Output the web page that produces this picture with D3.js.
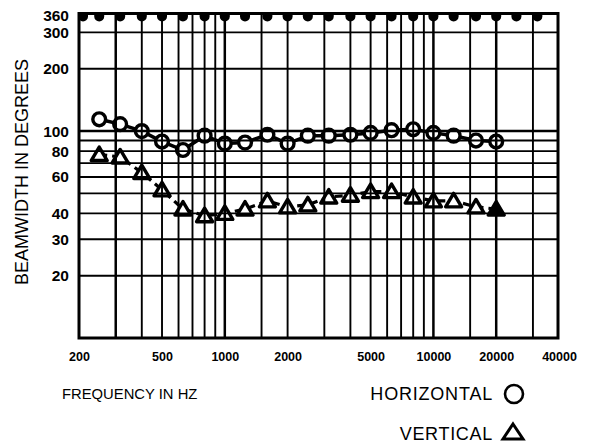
<!DOCTYPE html>
<html>
<head>
<meta charset="utf-8">
<script src="https://cdn.jsdelivr.net/npm/d3@7"></script>
<style>
  body { margin: 0; background: #fff; }
  text { font-family: "Liberation Sans", Arial, sans-serif; fill: #000; }
</style>
</head>
<body>
<div id="chart"></div>
<script>
// data (1/3 octave centres, Hz)
var freqs = [250, 315, 400, 500, 630, 800, 1000, 1250, 1600, 2000, 2500, 3150, 4000, 5000, 6300, 8000, 10000, 12500, 16000, 20000];
var horizontal = [114, 108, 100, 89, 81, 95, 87, 88, 96, 87, 95, 95, 96, 98, 101, 102, 98, 95, 90, 89];
var vertical = [77, 75, 63, 52, 42, 39, 40, 42, 46, 43, 44, 48, 49, 51, 51, 48, 46, 46, 43, 42];

var xLabels = [200, 500, 1000, 2000, 5000, 10000, 20000, 40000];
var xGrid = [300, 400, 500, 600, 700, 800, 900, 1000, 1500, 2000, 3000, 4000, 5000, 6000, 7000, 8000, 9000, 10000, 15000, 20000, 30000];
var topMarks = [200, 250, 315, 400, 500, 630, 800, 1000, 1250, 1600, 2000, 2500, 3150, 4000, 5000, 6300, 8000, 10000, 12500, 16000, 20000, 25000, 31500];
var yLabels = [360, 300, 200, 100, 80, 60, 40, 30, 20];
var yGrid = [300, 200, 100, 90, 80, 70, 60, 50, 40, 30, 20];

var svgWidth = 594;
var svgHeight = 448;

var plot = { left: 79, right: 558, top: 13.5, bottom: 338 };

var svg = d3.select("#chart")
  .append("svg")
  .attr("width", svgWidth)
  .attr("height", svgHeight);

svg.append("rect")
  .attr("width", svgWidth)
  .attr("height", svgHeight)
  .attr("fill", "#fff");

var xScale = d3.scaleLog()
  .domain([200, 40000])
  .range([plot.left, 559]);

var yScale = d3.scaleLog()
  .domain([10, 370])
  .range([plot.bottom, plot.top]);

var hData = freqs.map((f, i) => ({ f: f, v: horizontal[i] }));
var vData = freqs.map((f, i) => ({ f: f, v: vertical[i] }));

var line = d3.line()
  .x(d => xScale(d.f))
  .y(d => yScale(d.v));

// series lines
svg.append("path")
  .datum(hData)
  .attr("d", line)
  .attr("fill", "none")
  .attr("stroke", "#000")
  .attr("stroke-width", 3.5);

svg.append("path")
  .datum(vData)
  .attr("d", line)
  .attr("fill", "none")
  .attr("stroke", "#000")
  .attr("stroke-width", 3.2)
  .attr("stroke-dasharray", "8,5");

// markers
svg.selectAll(".hpt")
  .data(hData)
  .enter()
  .append("circle")
  .attr("class", "hpt")
  .attr("cx", d => xScale(d.f))
  .attr("cy", d => yScale(d.v))
  .attr("r", 6.4)
  .attr("fill", "#fff")
  .attr("stroke", "#000")
  .attr("stroke-width", 3.4);

var tri = "M0,-7.5L8,6L-8,6Z";

svg.selectAll(".vpt")
  .data(vData)
  .enter()
  .append("path")
  .attr("class", "vpt")
  .attr("d", tri)
  .attr("transform", d => `translate(${xScale(d.f)},${yScale(d.v)})`)
  .attr("fill", (d, i) => i === vData.length - 1 ? "#000" : "#fff")
  .attr("stroke", "#000")
  .attr("stroke-width", 3.4)
  .attr("stroke-linejoin", "round");

// grid
var gridGroup = svg.append("g");

gridGroup.selectAll(".vg")
  .data(xGrid)
  .enter()
  .append("line")
  .attr("x1", d => xScale(d))
  .attr("x2", d => xScale(d))
  .attr("y1", plot.top)
  .attr("y2", plot.bottom)
  .attr("stroke", "#000")
  .attr("stroke-width", d => (d === 1000 || d === 10000 || d === 20000 || d === 300) ? 2.5 : 1.9);

gridGroup.selectAll(".hg")
  .data(yGrid)
  .enter()
  .append("line")
  .attr("x1", plot.left)
  .attr("x2", plot.right)
  .attr("y1", d => yScale(d))
  .attr("y2", d => yScale(d))
  .attr("stroke", "#000")
  .attr("stroke-width", d => d === 100 ? 2.5 : 1.9);

// top notches
svg.selectAll(".notch")
  .data(topMarks)
  .enter()
  .append("path")
  .attr("d", d => {
    var x = Math.max(xScale(d), plot.left + 4);
    var t = plot.top;
    return `M${x - 5},${t}L${x - 5},${t + 3}A5,5 0 0 0 ${x + 5},${t + 3}L${x + 5},${t}Z`;
  })
  .attr("fill", "#000");

// frame
svg.append("rect")
  .attr("x", plot.left)
  .attr("y", plot.top)
  .attr("width", plot.right - plot.left)
  .attr("height", plot.bottom - plot.top)
  .attr("fill", "none")
  .attr("stroke", "#000")
  .attr("stroke-width", 3);

// axes labels
var bottomAxis = d3.axisBottom(xScale)
  .tickValues(xLabels)
  .tickSize(0)
  .tickPadding(0)
  .tickFormat(d3.format("d"));

var xAxis = svg.append("g")
  .attr("transform", `translate(0, 352)`)
  .call(bottomAxis);
xAxis.select(".domain").remove();
xAxis.selectAll("text")
  .attr("dy", "0.75em")
  .style("font-family", "'Liberation Sans', Arial, sans-serif")
  .style("font-size", "12.5px")
  .style("font-weight", "bold")
  .attr("fill", "#000");

var leftAxis = d3.axisLeft(yScale)
  .tickValues(yLabels)
  .tickSize(0)
  .tickPadding(0)
  .tickFormat(d3.format("d"));

var yAxis = svg.append("g")
  .attr("transform", `translate(69, 0)`)
  .call(leftAxis);
yAxis.select(".domain").remove();
yAxis.selectAll("text")
  .style("font-family", "'Liberation Sans', Arial, sans-serif")
  .style("font-size", "15.5px")
  .style("font-weight", "bold")
  .attr("fill", "#000");

// titles
svg.append("text")
  .attr("transform", "translate(28, 172) rotate(-90)")
  .attr("text-anchor", "middle")
  .style("font-size", "18px")
  .text("BEAMWIDTH IN DEGREES");

svg.append("text")
  .attr("x", 62)
  .attr("y", 399)
  .style("font-size", "14.8px")
  .text("FREQUENCY IN HZ");

// legend
svg.append("text")
  .attr("x", 493)
  .attr("y", 400)
  .attr("text-anchor", "end")
  .style("font-size", "18px")
  .style("letter-spacing", "0.8px")
  .text("HORIZONTAL");

svg.append("circle")
  .attr("cx", 514)
  .attr("cy", 394)
  .attr("r", 9)
  .attr("fill", "none")
  .attr("stroke", "#000")
  .attr("stroke-width", 2.6);

svg.append("text")
  .attr("x", 493)
  .attr("y", 440)
  .attr("text-anchor", "end")
  .style("font-size", "18px")
  .style("letter-spacing", "0.7px")
  .text("VERTICAL");

svg.append("path")
  .attr("d", "M0,-8L10,7L-10,7Z")
  .attr("transform", "translate(513, 432)")
  .attr("fill", "none")
  .attr("stroke", "#000")
  .attr("stroke-width", 3)
  .attr("stroke-linejoin", "miter");
</script>
</body>
</html>
